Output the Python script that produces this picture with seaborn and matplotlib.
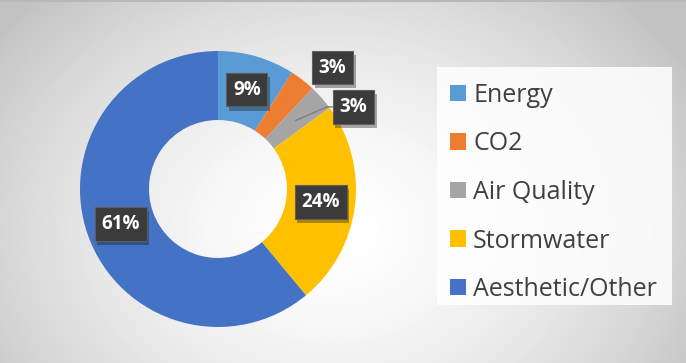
import numpy as np
import seaborn as sns
import matplotlib.pyplot as plt
import matplotlib.patheffects as pe

# data
categories = ["Energy", "CO2", "Air Quality", "Stormwater", "Aesthetic/Other"]
shares = [9, 3, 3, 24, 61]
pct_labels = ["9%", "3%", "3%", "24%", "61%"]
colors = ["#5B9BD5", "#ED7D31", "#A5A5A5", "#FFC000", "#4472C4"]

sns.set_theme(style="white")
plt.rcParams["font.family"] = ["Open Sans", "DejaVu Sans"]

fig = plt.figure(figsize=(6.86, 3.63), dpi=100)

# radial grey background
bg = fig.add_axes([0, 0, 1, 1], zorder=0)
yy, xx = np.mgrid[0:363, 0:686]
d = np.sqrt(((xx - 330) / 420.0) ** 2 + ((yy - 230) / 330.0) ** 2)
shade = np.clip(1.0 - 0.24 * d ** 1.6, 0.76, 1.0)
bg.imshow(shade, cmap="gray", vmin=0, vmax=1, aspect="auto",
          extent=[0, 1, 0, 1], origin="upper")
bg.set_xlim(0, 1)
bg.set_ylim(0, 1)
bg.axis("off")
bg.plot([0, 1], [0.997, 0.997], color="#b8b8b8", lw=1.5)
# white legend panel
bg.add_patch(plt.Rectangle((437 / 686, 1 - 305 / 363), 235 / 686, 238 / 363,
                           fc="white", ec="none", alpha=0.85))

ax = fig.add_axes([0.1166, 0.0992, 0.4023, 0.7603], zorder=1)
wedges, _ = ax.pie(shares, colors=colors, startangle=90, counterclock=False,
                   radius=1.0, wedgeprops=dict(width=0.5, edgecolor="none"))
ax.set_xlim(-1, 1)
ax.set_ylim(-1, 1)
ax.set_aspect("equal")
ax.axis("off")

box = dict(boxstyle="square,pad=0.36", fc="#3b3b3b", ec="#5e5e5e", lw=0.8)
shadow = [pe.withSimplePatchShadow(offset=(2, -3), alpha=0.35)]

positions = {}
for i, w in enumerate(wedges):
    mid = np.deg2rad((w.theta1 + w.theta2) / 2)
    positions[i] = (0.75 * np.cos(mid), 0.75 * np.sin(mid))
# the two thin slices have their labels pushed outside
positions[1] = (0.83, 0.88)
positions[2] = (0.98, 0.595)

gray_mid = np.deg2rad((wedges[2].theta1 + wedges[2].theta2) / 2)
ax.plot([0.75 * np.cos(gray_mid), 0.79, 0.84],
        [0.75 * np.sin(gray_mid), 0.595, 0.595],
        color="#7f7f7f", lw=1, zorder=2)

for i, lab in enumerate(pct_labels):
    x, y = positions[i]
    t = ax.text(x, y, lab, ha="center", va="center", color="white",
                fontsize=13.5, fontweight="bold", bbox=box, zorder=3)
    t.get_bbox_patch().set_path_effects(shadow)

handles = [plt.Rectangle((0, 0), 1, 1, fc=c, ec="none") for c in colors]
leg = fig.legend(handles, categories, loc="upper left",
                 bbox_to_anchor=(450 / 686, 1 - 83 / 363), borderaxespad=0,
                 frameon=False, fontsize=18, borderpad=0,
                 handlelength=0.64, handleheight=0.64, handletextpad=0.28,
                 labelspacing=0.94)
for txt in leg.get_texts():
    txt.set_color("#404040")

fig.savefig("out.png", dpi=100)
